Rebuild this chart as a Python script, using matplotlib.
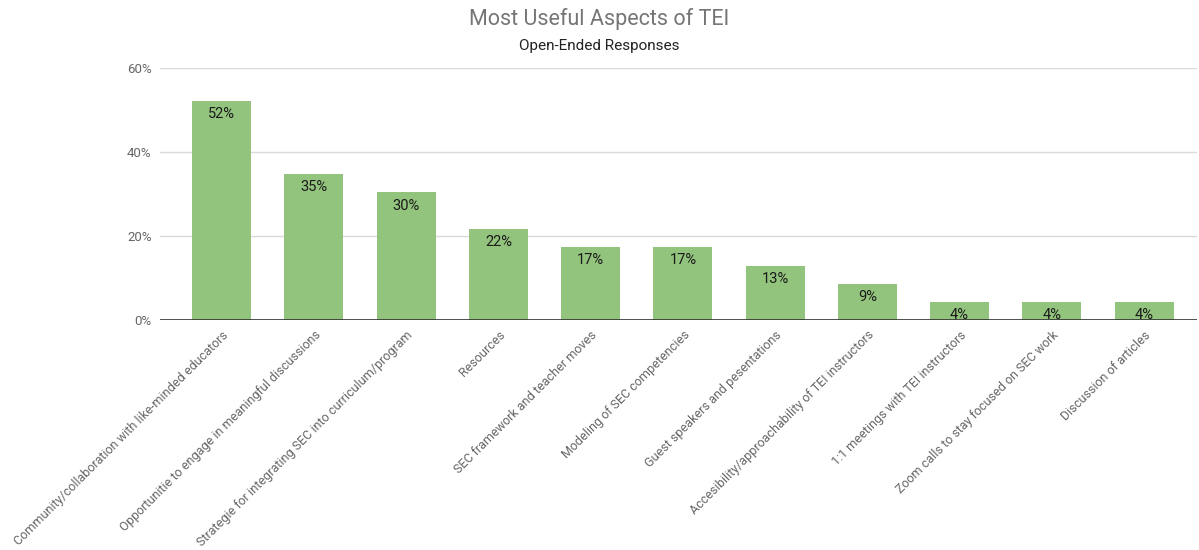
import matplotlib.pyplot as plt
from matplotlib.ticker import PercentFormatter

plt.rcParams['font.family'] = ['Roboto', 'DejaVu Sans']

categories = [
    'Community/collaboration with like-minded educators',
    'Opportunitie to engage in meaningful discussions',
    'Strategie for integrating SEC into curriculum/program',
    'Resources',
    'SEC framework and teacher moves',
    'Modeling of SEC competencies',
    'Guest speakers and pesentations',
    'Accesibility/approachability of TEI instructors',
    '1:1 meetings with TEI instructors',
    'Zoom calls to stay focused on SEC work',
    'Discussion of articles',
]
shares = [52.2, 34.8, 30.4, 21.7, 17.4, 17.4, 13.0, 8.7, 4.3, 4.3, 4.3]
y_ticks = [0, 20, 40, 60]

BAR_COLOR = '#93c47d'
GRID_COLOR = '#d9d9d9'
TEXT_GRAY = '#666666'

fig = plt.figure(figsize=(11.99, 5.5), dpi=100)
ax = fig.add_axes([0.1334, 0.418, 0.8646, 0.458])

x = range(len(categories))
bars = ax.bar(x, shares, width=0.64, color=BAR_COLOR, zorder=3)

for rect, v in zip(bars, shares):
    ax.annotate(f'{v:.0f}%', xy=(rect.get_x() + rect.get_width() / 2, rect.get_height()),
                xytext=(0, -4.5), textcoords='offset points', ha='center', va='top',
                fontsize=10.5, color='#1a1a1a', zorder=4)

ax.set_xlim(-0.67, 10.57)
ax.set_ylim(0, 60)
ax.set_yticks(y_ticks)
ax.yaxis.set_major_formatter(PercentFormatter(decimals=0))
ax.grid(axis='y', color=GRID_COLOR, linewidth=1, zorder=0)
ax.axhline(0, color='#333333', linewidth=1.2, zorder=5)

for s in ax.spines.values():
    s.set_visible(False)
ax.tick_params(axis='both', length=0, colors=TEXT_GRAY, labelsize=9.5)
ax.tick_params(axis='y', pad=6)
ax.set_xticks(list(x))
ax.set_xticklabels(categories, rotation=45, ha='right', va='top',
                   rotation_mode='anchor', color=TEXT_GRAY, fontsize=9.0)
ax.tick_params(axis='x', pad=6)

fig.text(0.5, 0.965, 'Most Useful Aspects of TEI', ha='center', va='center',
         fontsize=15.5, color='#757575')
fig.text(0.5, 0.916, 'Open-Ended Responses', ha='center', va='center',
         fontsize=11, color='#222222')

fig.savefig('out.png', dpi=100)
